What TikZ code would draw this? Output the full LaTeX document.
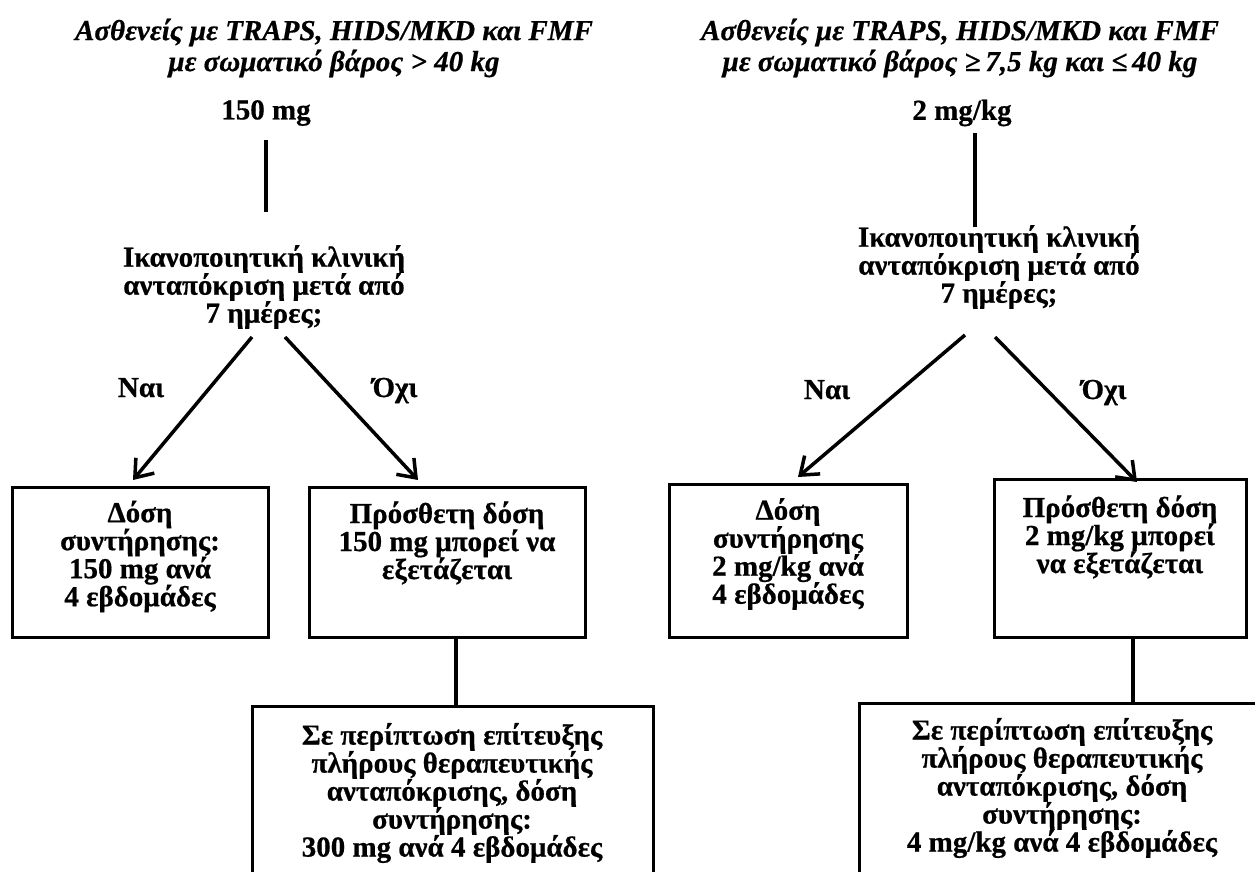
\documentclass[tikz,border=0pt]{standalone}
\usepackage{fontspec}
\setmainfont{Liberation Serif}[BoldFeatures={FakeBold=0.6}, BoldItalicFeatures={FakeBold=0.6}]
\usetikzlibrary{arrows.meta}
\begin{document}
\begin{tikzpicture}[x=1pt,y=-1pt,
  txt/.style={font=\bfseries\fontsize{29}{28}\selectfont, align=center, inner sep=0pt},
  lbl/.style={font=\bfseries\fontsize{29}{28}\selectfont, inner sep=0pt, anchor=base},
  ttl/.style={font=\bfseries\itshape\fontsize{29}{31}\selectfont, align=center, inner sep=0pt},
  box/.style={draw, line width=3pt, inner sep=0pt},
  ln/.style={line width=3.5pt},
  arr/.style={line width=3.5pt, -{Straight Barb[length=16pt,width=24pt]}}]
\useasboundingbox (0,0) rectangle (1255,872);
\clip (0,0) rectangle (1255,872);

% ---------------- left tree ----------------
\node[ttl] (titleL) at (334,48) {Ασθενείς με TRAPS, HIDS/MKD και FMF\\με σωματικό βάρος > 40 kg};
\node[txt] (doseL) at (266,113) {150 mg};
\node[txt] (qL) at (264,287) {Ικανοποιητική κλινική\\ανταπόκριση μετά από\\7 ημέρες;};
\node[lbl] (yesL) at (141,397) {Ναι};
\node[lbl] (noL) at (395,397) {Όχι};

\node[box, minimum width=256pt, minimum height=150pt] (L1) at (140,562) {};
\node[box, minimum width=276pt, minimum height=150pt] (L2) at (447,562) {};
\node[box, minimum width=401pt, minimum height=300pt] (L3) at (452.5,856) {};
\node[txt] (L1t) at (140,556.5) {Δόση\\συντήρησης:\\150 mg ανά\\4 εβδομάδες};
\node[txt] (L2t) at (447,543) {Πρόσθετη δόση\\150 mg μπορεί να\\εξετάζεται};
\node[txt] (L3t) at (452,793) {Σε περίπτωση επίτευξης\\πλήρους θεραπευτικής\\ανταπόκρισης, δόση\\συντήρησης:\\300 mg ανά 4 εβδομάδες};

\coordinate (vLa) at (266,140);
\coordinate (vLb) at (266,212);
\coordinate (sLy) at (252,337);
\coordinate (sLn) at (285,337);
\coordinate (tLy) at (133,480);
\coordinate (tLn) at (418,480);
\coordinate (cL) at (456,0);

\draw[ln] (vLa) -- (vLb);
\draw[arr] (sLy) -- (tLy);
\draw[arr] (sLn) -- (tLn);
\draw[ln] (L2.south -| cL) -- (L3.north -| cL);

% ---------------- right tree ----------------
\node[ttl] (titleR) at (960,48) {Ασθενείς με TRAPS, HIDS/MKD και FMF\\με σωματικό βάρος ≥\,7,5 kg και ≤\,40 kg};
\node[txt] (doseR) at (962,113) {2 mg/kg};
\node[txt] (qR) at (999,267) {Ικανοποιητική κλινική\\ανταπόκριση μετά από\\7 ημέρες;};
\node[lbl] (yesR) at (827,399) {Ναι};
\node[lbl] (noR) at (1104,399) {Όχι};

\node[box, minimum width=238pt, minimum height=153pt] (R1) at (788,560.5) {};
\node[box, minimum width=252pt, minimum height=158pt] (R2) at (1120,558) {};
\node[box, minimum width=406pt, minimum height=300pt] (R3) at (1062,853) {};
\node[txt] (R1t) at (788,554) {Δόση\\συντήρησης\\2 mg/kg ανά\\4 εβδομάδες};
\node[txt] (R2t) at (1120,537) {Πρόσθετη δόση\\2 mg/kg μπορεί\\να εξετάζεται};
\node[txt] (R3t) at (1062,788) {Σε περίπτωση επίτευξης\\πλήρους θεραπευτικής\\ανταπόκρισης, δόση\\συντήρησης:\\4 mg/kg ανά 4 εβδομάδες};

\coordinate (vRa) at (975,133);
\coordinate (vRb) at (975,227);
\coordinate (sRy) at (965,335);
\coordinate (sRn) at (995,337);
\coordinate (tRy) at (798,477);
\coordinate (tRn) at (1137,482);
\coordinate (cR) at (1133,0);

\draw[ln] (vRa) -- (vRb);
\draw[arr] (sRy) -- (tRy);
\draw[arr] (sRn) -- (tRn);
\draw[ln] (R2.south -| cR) -- (R3.north -| cR);
\end{tikzpicture}
\end{document}
